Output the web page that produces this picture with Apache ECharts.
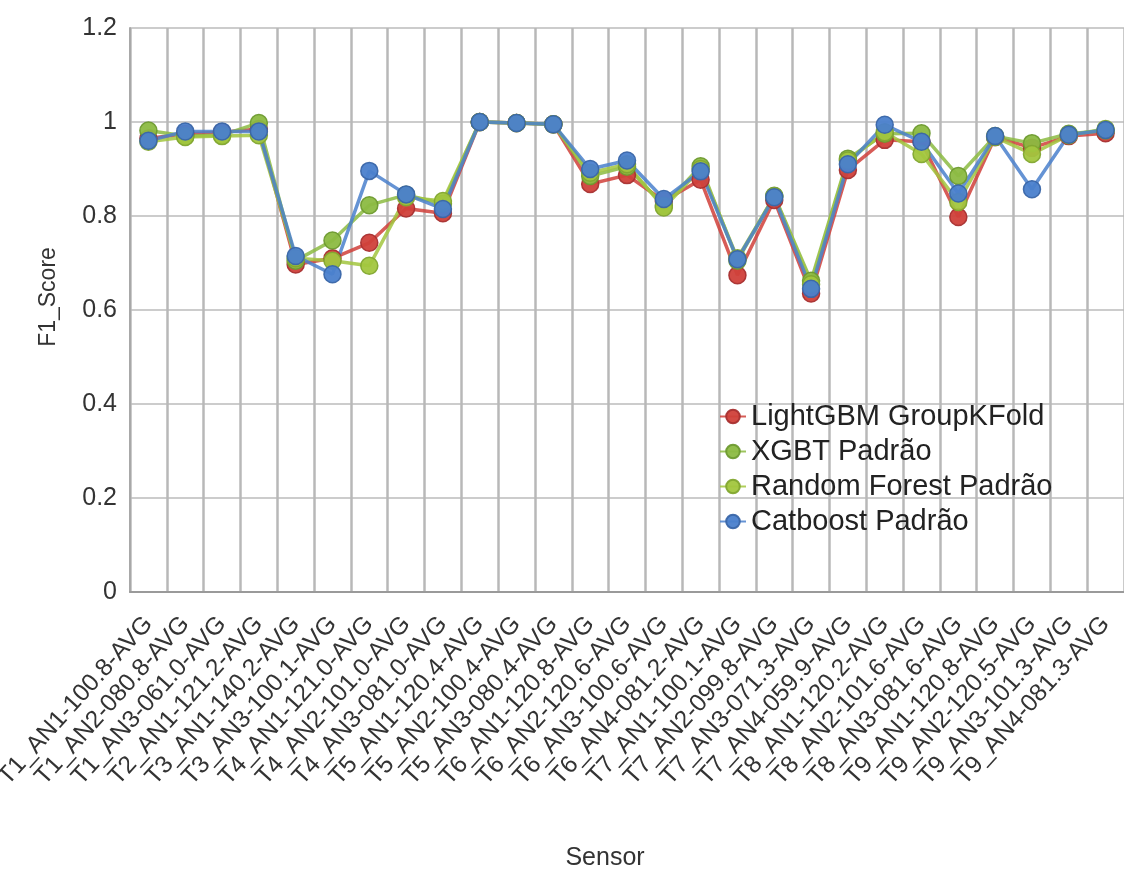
<!DOCTYPE html>
<html>
<head>
<meta charset="utf-8">
<script src="https://cdn.jsdelivr.net/npm/echarts@6/dist/echarts.min.js"></script>
<style>
  html, body { margin: 0; padding: 0; background: #ffffff; }
  #chart { width: 1124px; height: 872px; }
</style>
</head>
<body>
<div id="chart"></div>
<script>
// Sensor identifiers along the category axis
const sensors = [
  'T1_AN1-100.8-AVG', 'T1_AN2-080.8-AVG', 'T1_AN3-061.0-AVG', 'T2_AN1-121.2-AVG',
  'T3_AN1-140.2-AVG', 'T3_AN3-100.1-AVG', 'T4_AN1-121.0-AVG', 'T4_AN2-101.0-AVG',
  'T4_AN3-081.0-AVG', 'T5_AN1-120.4-AVG', 'T5_AN2-100.4-AVG', 'T5_AN3-080.4-AVG',
  'T6_AN1-120.8-AVG', 'T6_AN2-120.6-AVG', 'T6_AN3-100.6-AVG', 'T6_AN4-081.2-AVG',
  'T7_AN1-100.1-AVG', 'T7_AN2-099.8-AVG', 'T7_AN3-071.3-AVG', 'T7_AN4-059.9-AVG',
  'T8_AN1-120.2-AVG', 'T8_AN2-101.6-AVG', 'T8_AN3-081.6-AVG', 'T9_AN1-120.8-AVG',
  'T9_AN2-120.5-AVG', 'T9_AN3-101.3-AVG', 'T9_AN4-081.3-AVG'
];

// F1 score per sensor for each model
const lightgbmGroupKFold = [
  0.965, 0.975, 0.978, 0.985, 0.697, 0.710, 0.743, 0.816, 0.806, 1.000, 0.998, 0.995,
  0.868, 0.887, 0.832, 0.877, 0.674, 0.834, 0.635, 0.898, 0.962, 0.958, 0.798, 0.968,
  0.945, 0.970, 0.976
];
const xgbtPadrao = [
  0.982, 0.970, 0.972, 0.998, 0.705, 0.748, 0.823, 0.845, 0.826, 1.000, 0.998, 0.995,
  0.885, 0.905, 0.822, 0.906, 0.705, 0.843, 0.662, 0.922, 0.975, 0.976, 0.885, 0.970,
  0.955, 0.975, 0.982
];
const randomForestPadrao = [
  0.958, 0.968, 0.970, 0.972, 0.710, 0.705, 0.694, 0.840, 0.832, 1.000, 0.998, 0.995,
  0.892, 0.910, 0.818, 0.900, 0.710, 0.842, 0.655, 0.918, 0.978, 0.932, 0.830, 0.968,
  0.932, 0.972, 0.985
];
const catboostPadrao = [
  0.960, 0.980, 0.980, 0.980, 0.715, 0.676, 0.896, 0.846, 0.815, 1.000, 0.998, 0.995,
  0.900, 0.918, 0.836, 0.895, 0.708, 0.840, 0.645, 0.910, 0.994, 0.958, 0.848, 0.970,
  0.857, 0.973, 0.983
];

const seriesDefs = [
  { name: 'LightGBM GroupKFold', data: lightgbmGroupKFold, color: '#d0403a', border: '#a83030' },
  { name: 'XGBT Padrão', data: xgbtPadrao, color: '#8cbb42', border: '#6e9a30' },
  { name: 'Random Forest Padrão', data: randomForestPadrao, color: '#a2c63e', border: '#82a630' },
  { name: 'Catboost Padrão', data: catboostPadrao, color: '#4a80cc', border: '#3a66a8' }
];

const FONT = '"Liberation Sans", Arial, sans-serif';

const chart = echarts.init(document.getElementById('chart'), null, { renderer: 'canvas' });

chart.setOption({
  backgroundColor: '#ffffff',
  animation: false,
  textStyle: { fontFamily: FONT },
  grid: {
    left: 130, right: 0, top: 28, bottom: 280,
    containLabel: false,
    outerBoundsMode: 'none'
  },
  legend: {
    orient: 'vertical',
    left: 714,
    top: 397,
    itemWidth: 26,
    itemHeight: 17,
    itemGap: 6,
    textStyle: { fontFamily: FONT, fontSize: 29, color: '#222' },
    data: seriesDefs.map(s => s.name)
  },
  xAxis: {
    type: 'category',
    data: sensors,
    boundaryGap: true,
    name: 'Sensor',
    nameLocation: 'middle',
    nameGap: 254,
    nameTextStyle: { fontFamily: FONT, fontSize: 25, color: '#333', padding: [0, 44, 0, 0] },
    axisLine: { show: true, lineStyle: { color: '#9a9a9a', width: 2 } },
    axisTick: { show: false },
    axisLabel: {
      interval: 0,
      rotate: 48,
      margin: 28,
      fontFamily: FONT,
      fontSize: 24.5,
      color: '#333'
    },
    splitLine: { show: true, interval: 0, lineStyle: { color: '#b8b8b8', width: 2.5 } }
  },
  yAxis: {
    type: 'value',
    min: 0,
    max: 1.2,
    interval: 0.2,
    name: 'F1_Score',
    nameLocation: 'middle',
    nameGap: 70,
    nameTextStyle: { fontFamily: FONT, fontSize: 23, color: '#333', padding: [0, 0, 0, 26] },
    axisLine: { show: true, lineStyle: { color: '#a8a8a8', width: 2 } },
    axisTick: { show: false },
    axisLabel: {
      margin: 13,
      fontFamily: FONT,
      fontSize: 25,
      color: '#333',
      formatter: v => String(Math.round(v * 10) / 10)
    },
    splitLine: { show: true, lineStyle: { color: '#cccccc', width: 2 } }
  },
  series: seriesDefs.map(s => ({
    name: s.name,
    type: 'line',
    data: s.data,
    symbol: 'circle',
    symbolSize: 17,
    color: s.color,
    lineStyle: { color: s.color, width: 3.5, opacity: 0.85 },
    itemStyle: { color: s.color, borderColor: s.border, borderWidth: 1.5, opacity: 0.95 },
    emphasis: { disabled: true }
  }))
});
</script>
</body>
</html>
